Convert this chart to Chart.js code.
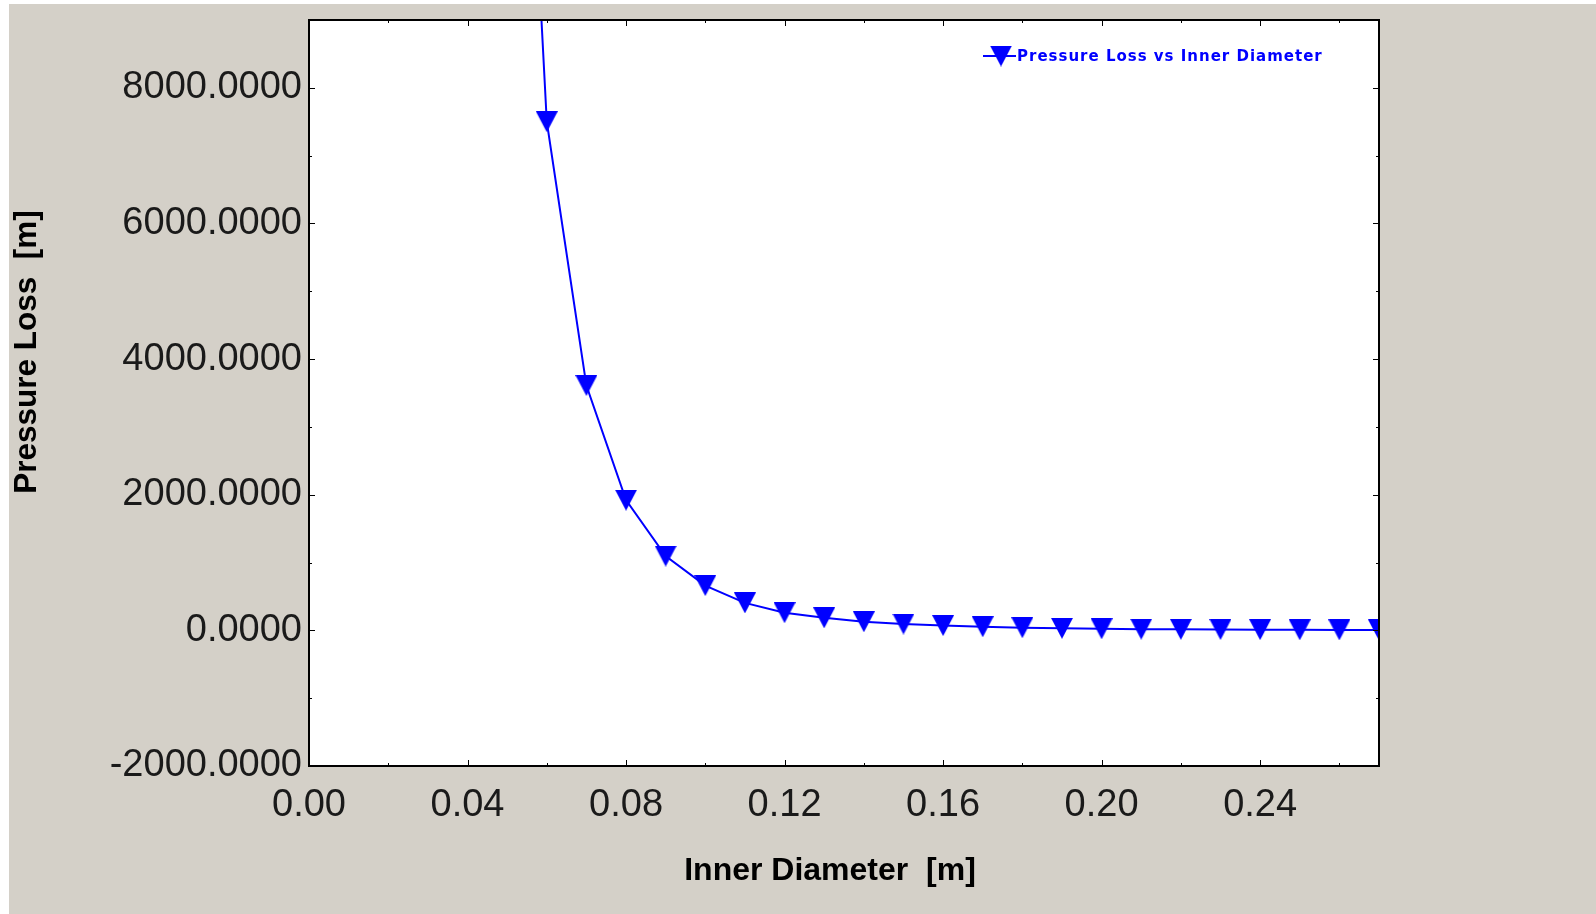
<!DOCTYPE html>
<html>
<head>
<meta charset="utf-8">
<title>Pressure Loss vs Inner Diameter</title>
<script src="https://cdn.jsdelivr.net/npm/chart.js@4.4.1/dist/chart.umd.min.js"></script>
<style>
  html, body { margin: 0; padding: 0; background: #ffffff; overflow: hidden; }
  #panel { position: absolute; left: 9px; top: 4px; width: 1587px; height: 910px; background: #d4d0c8; }
  canvas { display: block; }
</style>
</head>
<body>
<div id="panel"><canvas id="chart" width="1587" height="910"></canvas></div>
<script>
// Inner diameter [m] and resulting pressure loss [m]
const diameters = [0.05, 0.06, 0.07, 0.08, 0.09, 0.10, 0.11, 0.12, 0.13, 0.14, 0.15, 0.16,
                   0.17, 0.18, 0.19, 0.20, 0.21, 0.22, 0.23, 0.24, 0.25, 0.26, 0.27];
const pressureLoss = [18700, 7500, 3610, 1920, 1095, 660, 405, 260, 185, 127, 93, 70,
                      53, 39, 30, 23, 18, 15, 12, 10, 8, 7, 6];

// Axis ticks
const xTickValues = [0, 0.04, 0.08, 0.12, 0.16, 0.20, 0.24];
const xMinorValues = [0.02, 0.06, 0.10, 0.14, 0.18, 0.22, 0.26];
const yTickValues = [-2000, 0, 2000, 4000, 6000, 8000];
const yMinorValues = [-1000, 1000, 3000, 5000, 7000];

const seriesLabel = 'Pressure Loss vs Inner Diameter';
const xTitle = 'Inner Diameter  [m]';
const yTitle = 'Pressure Loss  [m]';

const BLUE = '#0000ff';

// Downward filled triangle used as the point marker
function makeTriangle(w, h, color) {
  const cv = document.createElement('canvas');
  cv.width = w; cv.height = h;
  const g = cv.getContext('2d');
  g.fillStyle = color;
  g.beginPath();
  g.moveTo(0, 0);
  g.lineTo(w, 0);
  g.lineTo(w / 2, h);
  g.closePath();
  g.fill();
  return cv;
}
const marker = makeTriangle(22, 21, BLUE);

// Plot frame, inward ticks, axis titles and the in-plot legend
const framePlugin = {
  id: 'frame',
  beforeDatasetsDraw(chart) {
    const { ctx, chartArea: a } = chart;
    ctx.save();
    ctx.fillStyle = '#ffffff';
    ctx.fillRect(a.left, a.top, a.right - a.left, a.bottom - a.top);
    ctx.restore();
  },
  afterDraw(chart) {
    const { ctx, chartArea: a, scales: { x, y } } = chart;
    ctx.save();
    ctx.strokeStyle = '#000000';
    ctx.lineWidth = 1;
    ctx.beginPath();
    const vTick = (v, len) => {
      const px = Math.round(x.getPixelForValue(v)) + 0.5;
      ctx.moveTo(px, a.bottom); ctx.lineTo(px, a.bottom - len);
      ctx.moveTo(px, a.top); ctx.lineTo(px, a.top + len);
    };
    const hTick = (v, len) => {
      const py = Math.round(y.getPixelForValue(v)) + 0.5;
      ctx.moveTo(a.left, py); ctx.lineTo(a.left + len, py);
      ctx.moveTo(a.right, py); ctx.lineTo(a.right - len, py);
    };
    xTickValues.forEach(v => vTick(v, 6));
    xMinorValues.forEach(v => vTick(v, 3));
    yTickValues.forEach(v => hTick(v, 6));
    yMinorValues.forEach(v => hTick(v, 3));
    ctx.stroke();

    ctx.lineWidth = 2;
    ctx.strokeRect(a.left, a.top, a.right - a.left, a.bottom - a.top);

    // Axis titles
    ctx.fillStyle = '#000000';
    ctx.font = 'bold 32px "Liberation Sans", Arial, sans-serif';
    ctx.textAlign = 'center';
    ctx.textBaseline = 'middle';
    ctx.fillText(xTitle, 821, 867);
    ctx.save();
    ctx.translate(18, 348);
    ctx.rotate(-Math.PI / 2);
    ctx.font = 'bold 31.5px "Liberation Sans", Arial, sans-serif';
    ctx.fillText(yTitle, 0, 0);
    ctx.restore();

    // Legend
    const ds = chart.data.datasets[0];
    const ly = 52;
    ctx.strokeStyle = ds.borderColor;
    ctx.lineWidth = 2;
    ctx.beginPath();
    ctx.moveTo(974, ly);
    ctx.lineTo(1007, ly);
    ctx.stroke();
    ctx.drawImage(marker, 992 - marker.width / 2, ly - marker.height / 2);
    ctx.fillStyle = ds.borderColor;
    ctx.font = 'bold 15px "DejaVu Sans", Verdana, sans-serif';
    ctx.letterSpacing = '1px';
    ctx.textAlign = 'left';
    ctx.fillText(ds.label, 1008, 53);
    ctx.restore();
  }
};

const tickFont = { family: '"Liberation Sans", Arial, sans-serif', size: 38 };

new Chart(document.getElementById('chart'), {
  type: 'line',
  data: {
    datasets: [{
      label: seriesLabel,
      data: diameters.map((d, i) => ({ x: d, y: pressureLoss[i] })),
      borderColor: BLUE,
      backgroundColor: BLUE,
      borderWidth: 2,
      tension: 0,
      pointStyle: marker,
      pointRadius: 11,
      pointHoverRadius: 11,
      fill: false
    }]
  },
  options: {
    responsive: false,
    animation: false,
    devicePixelRatio: 1,
    layout: { padding: { left: 0, top: 16, right: 217, bottom: 0 } },
    plugins: {
      legend: { display: false },
      tooltip: { enabled: false },
      title: { display: false }
    },
    scales: {
      x: {
        type: 'linear',
        min: 0,
        max: 0.27,
        grid: { display: false, drawTicks: false },
        border: { display: false },
        afterBuildTicks: s => { s.ticks = xTickValues.map(v => ({ value: v })); },
        afterFit: s => { s.height = 148; s.paddingLeft = 0; s.paddingRight = 0; },
        ticks: {
          padding: 17,
          color: '#1a1a1a',
          font: tickFont,
          maxRotation: 0,
          autoSkip: false,
          callback: v => Number(v).toFixed(2)
        }
      },
      y: {
        type: 'linear',
        min: -2000,
        max: 9000,
        grid: { display: false, drawTicks: false },
        border: { display: false },
        afterBuildTicks: s => { s.ticks = yTickValues.map(v => ({ value: v })); },
        afterFit: s => { s.width = 300; s.paddingTop = 0; s.paddingBottom = 0; },
        ticks: {
          padding: 7,
          color: '#1a1a1a',
          font: tickFont,
          autoSkip: false,
          callback: v => Number(v).toFixed(4)
        }
      }
    }
  },
  plugins: [framePlugin]
});
</script>
</body>
</html>
